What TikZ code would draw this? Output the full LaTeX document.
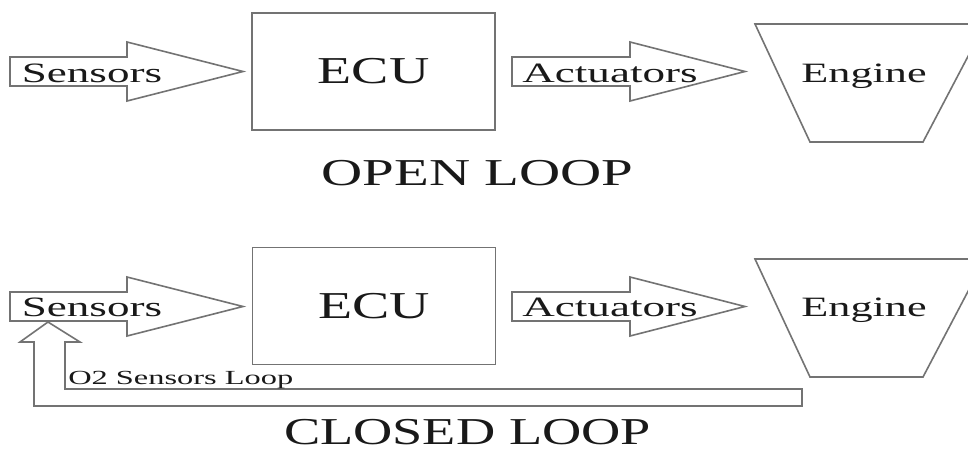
\documentclass[tikz,border=0pt]{standalone}
\usepackage{fontspec}
\setmainfont{Liberation Serif}
\newcommand\hstretchtext[2]{\scalebox{#1}[1]{#2}}
\begin{document}
\begin{tikzpicture}[x=0.75pt,y=-0.75pt,
  shapeline/.style={draw=black!55, line width=1.2pt, line join=miter, fill=white},
  lbl/.style={inner sep=0pt, text=black!90},
  midfont/.style={font=\fontsize{21}{21}\selectfont},
  bigfont/.style={font=\fontsize{28.5}{28.5}\selectfont},
  smallfont/.style={font=\fontsize{15}{15}\selectfont},
  ecubox/.style={shapeline, inner sep=0pt, minimum width=182.25pt, minimum height=88pt, text=black!90, bigfont},
]
\path[use as bounding box, clip] (0,0) rectangle (968,451);
\fill[white] (0,0) rectangle (968,451);

% ---------------- OPEN LOOP ----------------
\draw[shapeline] (10,57) -- (127,57) -- (127,42) -- (243,71.5) -- (127,101) -- (127,86) -- (10,86) -- cycle;
\node[lbl, midfont, anchor=base] (sens1) at (92,82) {\hstretchtext{1.61}{Sensors}};

\node[ecubox] (ecu1) at (373.5,71.5) {\hstretchtext{1.47}{ECU}};

\draw[shapeline] (512,57) -- (630,57) -- (630,42) -- (745,71.5) -- (630,101) -- (630,86) -- (512,86) -- cycle;
\node[lbl, midfont, anchor=base] (act1) at (610,82) {\hstretchtext{1.61}{Actuators}};

\draw[shapeline] (755,24) -- (985,24) -- (923,142) -- (810,142) -- cycle;
\node[lbl, midfont, anchor=base] (eng1) at (864,82) {\hstretchtext{1.58}{Engine}};

\node[lbl, bigfont, anchor=base] (open) at (477.5,185) {\hstretchtext{1.5}{OPEN LOOP}};

% ---------------- CLOSED LOOP ----------------
\draw[shapeline] (34,406) -- (34,342) -- (20,342) -- (48,322) -- (80,342) -- (65,342) -- (65,389) -- (802,389) -- (802,406) -- cycle;
\node[lbl, smallfont, anchor=base west] (o2) at (68,384) {\hstretchtext{1.62}{O2 Sensors Loop}};

\draw[shapeline] (10,292) -- (127,292) -- (127,277) -- (243,306.5) -- (127,336) -- (127,321) -- (10,321) -- cycle;
\node[lbl, midfont, anchor=base] (sens2) at (92,316.5) {\hstretchtext{1.61}{Sensors}};

\node[ecubox] (ecu2) at (374,306) {\hstretchtext{1.47}{ECU}};

\draw[shapeline] (512,292) -- (630,292) -- (630,277) -- (745,306.5) -- (630,336) -- (630,321) -- (512,321) -- cycle;
\node[lbl, midfont, anchor=base] (act2) at (610,316.5) {\hstretchtext{1.61}{Actuators}};

\draw[shapeline] (755,259) -- (985,259) -- (923,377) -- (810,377) -- cycle;
\node[lbl, midfont, anchor=base] (eng2) at (864,316.5) {\hstretchtext{1.58}{Engine}};

\node[lbl, bigfont, anchor=base] (closed) at (467.5,444) {\hstretchtext{1.43}{CLOSED LOOP}};
\end{tikzpicture}
\end{document}
